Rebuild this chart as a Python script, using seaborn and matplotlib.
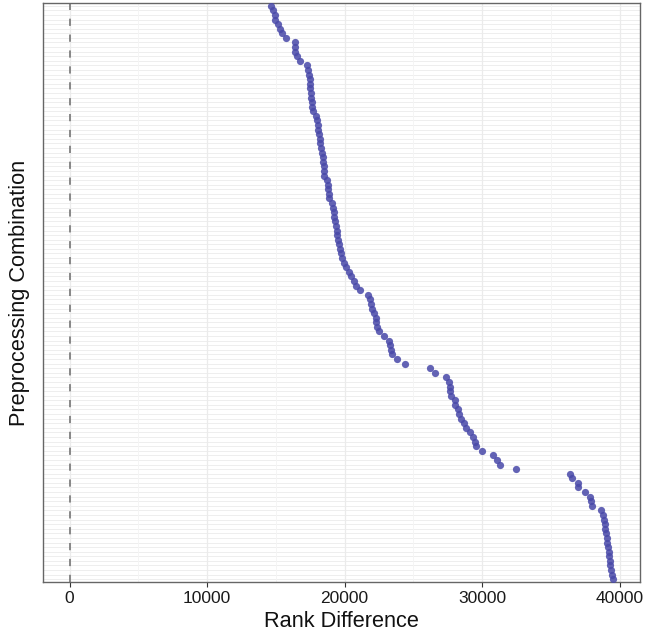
import matplotlib
matplotlib.use("Agg")
import matplotlib.pyplot as plt
import seaborn as sns
import pandas as pd

# ---- data (top row first) ----
rank_difference = [
    14680, 14796, 14919, 14970, 15159, 15333, 15449, 15718, 16371, 16371,
    16422, 16567, 16785, 17293, 17366, 17409, 17460, 17482, 17511, 17533,
    17555, 17606, 17656, 17700, 17947, 17990, 18041, 18092, 18135, 18186,
    18208, 18259,
    18332, 18404, 18455, 18477, 18498, 18528, 18745, 18789, 18818, 18840,
    18891, 19079, 19181, 19203, 19224, 19275, 19370, 19421, 19471, 19515,
    19587, 19638, 19733, 19834, 19950, 20074, 20313, 20459, 20655, 20800,
    21090, 21722, 21816, 21889, 22012, 22107, 22274, 22303, 22346, 22491,
    22833, 23217, 23268, 23392, 23435, 23777, 24408,
    26245, 26557, 27385, 27603, 27646, 27675, 27719, 28009, 28060, 28256,
    28299, 28445, 28713, 28837, 29127, 29345, 29490, 29563, 29969, 30819,
    31058, 31276, 32438,
    36409, 36532, 36968, 37011, 37476, 37839, 37912, 38006, 38681, 38805,
    38877, 38928, 38972, 39023, 39073, 39117, 39168, 39219, 39262, 39291,
    39313, 39364, 39436, 39509,
]
combinations = [f"Combination {i + 1}" for i in range(len(rank_difference))]
x_ticks = [0, 10000, 20000, 30000, 40000]
x_label = "Rank Difference"
y_label = "Preprocessing Combination"

df = pd.DataFrame({"combination": combinations, "rank_difference": rank_difference})

sns.set_theme(style="white")
plt.rcParams["font.family"] = ["Liberation Sans", "DejaVu Sans"]

fig = plt.figure(figsize=(6.45, 6.36), dpi=100)
ax = fig.add_axes([0.0659, 0.0849, 0.9263, 0.9104])

n = len(combinations)
# horizontal grid line for every category
for i in range(n):
    ax.axhline(i, color="#EBEBEB", lw=0.6, zorder=0)
# vertical grid lines
for v in range(0, 45000, 5000):
    major = v % 10000 == 0
    ax.axvline(v, color="#EBEBEB" if major else "#F4F4F4",
               lw=0.9 if major else 0.6, zorder=0)

ax.axvline(0, color="#7F7F7F", lw=1.3, ls=(0, (4.0, 4.8)), zorder=1)

sns.stripplot(data=df, x="rank_difference", y="combination", order=combinations,
              jitter=False, color="#4848A8", alpha=0.85, size=5.2,
              linewidth=0, ax=ax, zorder=3)

rng = max(rank_difference) - 0
ax.set_xlim(0 - 0.05 * rng, max(rank_difference) + 0.05 * rng)
ax.set_ylim(n - 1 + 0.6, -0.6)

ax.set_xticks(x_ticks)
ax.set_xticklabels([str(t) for t in x_ticks])
ax.set_yticks([])
ax.tick_params(axis="x", which="major", length=3.8, width=0.8, color="#333333",
               labelsize=12.5, labelcolor="#1A1A1A", pad=3, bottom=True)

ax.set_xlabel(x_label, fontsize=15.7, color="#111111", labelpad=3)
ax.set_ylabel(y_label, fontsize=15.7, color="#111111", labelpad=9)

for sp in ax.spines.values():
    sp.set_color("#666666")
    sp.set_linewidth(1.0)
    sp.set_visible(True)

fig.savefig("out.png", dpi=100)
